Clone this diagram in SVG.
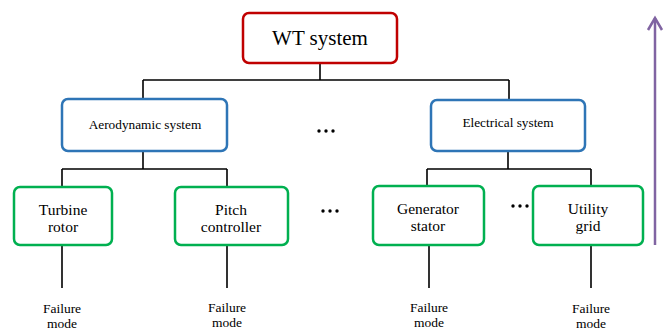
<svg xmlns="http://www.w3.org/2000/svg" width="665" height="331" viewBox="0 0 665 331">
<style>
.box{fill:#fff;stroke-width:2.5}
.red{stroke:#C00000}
.blue{stroke:#2E75B6}
.green{stroke:#00B050}
.t{fill:#000;text-anchor:middle}
.ln{stroke:#000;stroke-width:1.6;fill:none}
</style>
<rect width="665" height="331" fill="#fff"/>
<g id="connectors">
<path class="ln" d="M320 63V80M143 80H509M143 80V99M509 80V100"/>
<path class="ln" d="M143 151V169M62 169H227M62 169V187M227 169V187"/>
<path class="ln" d="M508 151V169M427 169H591M427 169V186M591 169V186"/>
<path class="ln" d="M62 245V288M227 245V288M429 245V288M591 245V288"/>
</g>
<g font-family="'Liberation Serif','Times New Roman','DejaVu Serif',serif">
<g id="wt"><rect class="box red" x="243" y="13" width="154" height="50" rx="6"/><text class="t" x="320" y="45" font-size="21">WT system</text></g>
<g id="aero"><rect class="box blue" x="62" y="99" width="165" height="52" rx="6"/><text class="t" x="145" y="128.5" font-size="13.3">Aerodynamic system</text></g>
<g id="elec"><rect class="box blue" x="431" y="100" width="154" height="51" rx="6"/><text class="t" x="508" y="126.5" font-size="13.3">Electrical system</text></g>
<g id="turbine"><rect class="box green" x="14" y="187" width="98" height="58" rx="6"/><text class="t" x="63" y="215" font-size="15.5">Turbine</text><text class="t" x="63" y="232" font-size="15.5">rotor</text></g>
<g id="pitch"><rect class="box green" x="175" y="187" width="113" height="58" rx="6"/><text class="t" x="231" y="215" font-size="15.5">Pitch</text><text class="t" x="231" y="232" font-size="15.5">controller</text></g>
<g id="gen"><rect class="box green" x="373" y="186" width="111" height="59" rx="6"/><text class="t" x="428" y="214" font-size="15.5">Generator</text><text class="t" x="428" y="231" font-size="15.5">stator</text></g>
<g id="grid"><rect class="box green" x="533" y="186" width="110" height="59" rx="6"/><text class="t" x="588" y="214" font-size="15.5">Utility</text><text class="t" x="588" y="231" font-size="15.5">grid</text></g>
<g id="fm1"><text class="t" x="62" y="313" font-size="13.5">Failure</text><text class="t" x="62" y="328" font-size="13.5">mode</text></g>
<g id="fm2"><text class="t" x="227" y="312" font-size="13.5">Failure</text><text class="t" x="227" y="327" font-size="13.5">mode</text></g>
<g id="fm3"><text class="t" x="429" y="312" font-size="13.5">Failure</text><text class="t" x="429" y="327" font-size="13.5">mode</text></g>
<g id="fm4"><text class="t" x="591" y="313" font-size="13.5">Failure</text><text class="t" x="591" y="328" font-size="13.5">mode</text></g>
</g>
<g id="dots" fill="#000">
<circle cx="319" cy="131" r="1.7"/><circle cx="326" cy="131" r="1.7"/><circle cx="333" cy="131" r="1.7"/>
<circle cx="323" cy="211" r="1.7"/><circle cx="330" cy="211" r="1.7"/><circle cx="337" cy="211" r="1.7"/>
<circle cx="513" cy="206" r="1.7"/><circle cx="520" cy="206" r="1.7"/><circle cx="527" cy="206" r="1.7"/>
</g>
<g id="arrow" stroke="#8064A2" stroke-width="2.5" fill="none">
<path d="M655 245V18"/><path d="M648 30L655 18L662 30"/>
</g>
</svg>
